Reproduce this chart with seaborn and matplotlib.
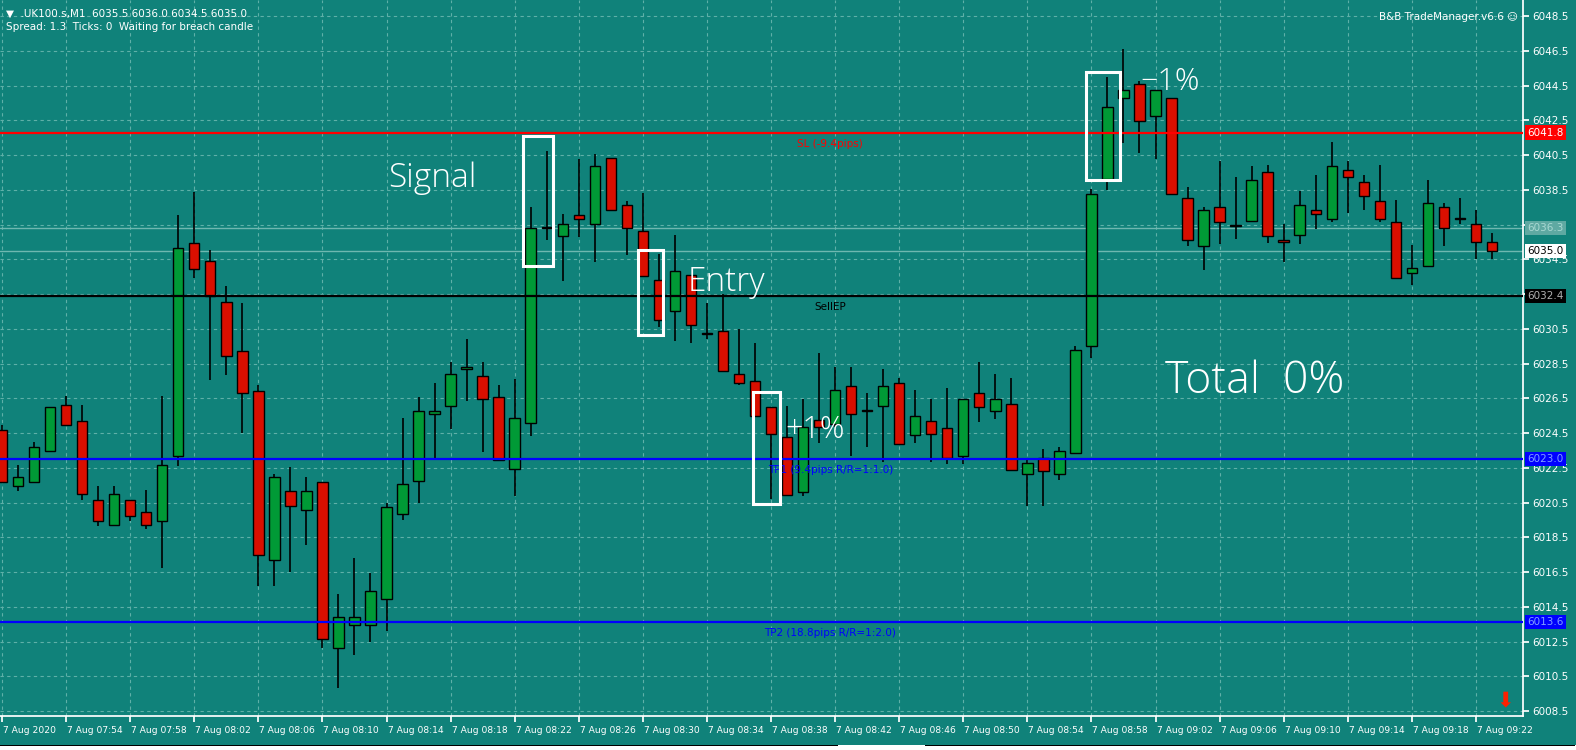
import matplotlib
matplotlib.use("Agg")
import matplotlib.pyplot as plt
from matplotlib.patches import Rectangle
import matplotlib.transforms as mtransforms
import seaborn as sns
import numpy as np
import pandas as pd

# ---- data ----
opens = [6024.66,6021.46,6021.7,6023.46,6026.14,6025.18,6020.66,6019.18,6020.66,6019.98,
         6019.46,6023.16,6035.44,6034.42,6032.02,6029.22,6026.94,6017.2,6021.18,6020.1,
         6021.7,6012.12,6013.44,6013.44,6014.92,6019.82,6021.72,6025.58,6026.04,6028.17,
         6027.77,6026.56,6022.41,6025.06,6036.29,6035.83,6037.04,6036.52,6040.32,6037.61,
         6036.11,6033.29,6031.51,6033.58,6030.19,6030.36,6027.88,6027.48,6025.98,6024.27,
         6021.13,6025.23,6025.04,6027.19,6025.77,6026.04,6027.36,6024.37,6025.18,6024.77,
         6023.2,6026.79,6025.75,6026.15,6022.12,6023.05,6022.12,6023.33,6029.49,6039.15,
         6043.77,6044.58,6042.74,6043.77,6038.01,6035.29,6037.5,6036.4,6036.69,6039.51,
         6035.6,6035.88,6037.32,6036.81,6039.63,6038.94,6037.84,6036.63,6033.7,6034.1,
         6037.5,6036.81,6036.52,6035.5]
closes = [6021.7,6021.98,6023.7,6025.98,6024.94,6021.02,6019.46,6021.02,6019.7,6019.18,
          6022.66,6035.16,6033.94,6032.4,6028.94,6026.78,6017.48,6021.98,6020.28,6021.18,
          6012.64,6013.94,6013.94,6015.42,6020.22,6021.55,6025.75,6025.75,6027.88,6028.28,
          6026.44,6022.93,6025.35,6036.29,6036.35,6036.52,6036.81,6039.86,6037.32,6036.29,
          6033.52,6030.99,6033.81,6030.7,6030.25,6028.06,6027.36,6025.46,6024.43,6020.92,
          6024.85,6024.85,6026.96,6025.58,6025.82,6027.19,6023.85,6025.46,6024.43,6023.05,
          6026.44,6025.98,6026.44,6022.39,6022.8,6022.34,6023.45,6029.26,6038.24,6043.25,
          6044.23,6042.45,6044.23,6038.24,6035.6,6037.34,6036.63,6036.45,6039.05,6035.83,
          6035.48,6037.61,6037.09,6039.86,6039.22,6038.13,6036.81,6033.41,6033.98,6037.73,
          6036.29,6036.85,6035.48,6035.0]
highs = [6024.96,6022.66,6024.0,6026.0,6026.66,6026.14,6021.48,6021.48,6020.66,6021.2,
         6026.66,6037.06,6038.4,6035.06,6032.94,6031.98,6027.26,6022.16,6022.52,6022.0,
         6021.7,6015.22,6017.32,6016.42,6020.5,6025.35,6026.58,6027.38,6028.59,6029.92,
         6028.59,6027.27,6027.61,6037.52,6040.74,6037.11,6040.28,6040.57,6040.32,6037.86,
         6038.32,6034.81,6035.9,6033.58,6031.97,6032.53,6030.47,6029.67,6025.98,6026.08,
         6026.44,6029.09,6028.3,6028.3,6026.79,6028.19,6027.65,6026.96,6026.44,6027.08,
         6026.44,6028.59,6027.92,6027.65,6023.05,6023.58,6023.68,6029.51,6038.53,6044.98,
         6046.59,6044.75,6044.23,6043.8,6038.67,6037.5,6040.16,6039.24,6039.88,6039.93,
         6036.52,6038.44,6039.36,6041.26,6040.16,6039.36,6039.93,6037.9,6035.31,6039.05,
         6037.73,6038.01,6037.32,6036.0]
lows = [6021.6,6021.16,6021.7,6023.46,6024.94,6020.66,6019.16,6019.18,6019.46,6018.98,
        6016.76,6022.62,6033.4,6027.56,6027.84,6024.48,6015.7,6015.7,6016.5,6018.08,
        6012.1,6009.82,6011.7,6012.5,6013.12,6019.5,6020.49,6023.01,6024.75,6026.37,
        6023.43,6022.93,6020.9,6024.35,6035.62,6033.27,6035.81,6034.37,6037.32,6034.75,
        6033.52,6030.59,6029.78,6029.67,6029.9,6028.06,6027.25,6025.46,6020.69,6020.9,
        6020.9,6023.91,6024.87,6023.2,6023.72,6022.85,6023.85,6023.95,6022.85,6022.74,
        6022.74,6025.16,6025.31,6022.39,6020.32,6020.32,6021.82,6023.33,6028.84,6038.49,
        6041.22,6040.64,6040.26,6038.24,6035.29,6033.91,6035.4,6035.69,6036.69,6035.46,
        6034.37,6035.4,6036.27,6036.63,6037.19,6037.32,6036.63,6033.41,6033.01,6034.1,
        6035.29,6036.52,6034.5,6034.5]
start_minute = 7 * 60 + 50
price_ticks = [6008.5 + 2 * i for i in range(21)]
levels = [6041.8, 6032.4, 6023.0, 6013.6]
level_labels = ["SL (-9.4pips)", "SellEP", "TP1 (9.4pips R/R=1:1.0)", "TP2 (18.8pips R/R=1:2.0)"]
level_colors = ["#ff0000", "#000000", "#0000ff", "#0000ff"]
bid, ask = 6035.0, 6036.3

n = len(opens)
idx = np.arange(n)
df = pd.DataFrame({"x": idx, "o": opens, "c": closes, "h": highs, "l": lows})

BG = "#10827A"
GREEN = "#009A36"
RED = "#D90F00"

sns.set_theme(style="dark")
plt.rcParams["font.family"] = ["DejaVu Sans"]

W, H = 1576, 750
fig = plt.figure(figsize=(W / 100, H / 100), dpi=100, facecolor=BG)
ax = fig.add_axes([0.0, 1 - 716 / H, 1523 / W, 716 / H])
ax.set_facecolor(BG)

ppu = 17.37
ymax = 6008.5 + 711 / ppu
ymin = 6008.5 - 5 / ppu
ax.set_ylim(ymin, ymax)
ax.set_xlim(-0.125, 1521 / 16 - 0.125)

for p in price_ticks:
    ax.axhline(p, color="#5fb0a8", lw=0.8, ls=(0, (3, 3)), zorder=0)
for k in range(0, n + 4, 4):
    ax.axvline(k, color="#5fb0a8", lw=0.8, ls=(0, (3, 3)), zorder=0)

ax.axhline(ask, color="#6fb8b0", lw=1.0, zorder=1)
ax.axhline(bid, color="#6fb8b0", lw=1.0, zorder=1)

up = df["c"] >= df["o"]
ax.vlines(df["x"], df["l"], df["h"], color="black", lw=1.2, zorder=2)
body = (df["c"] - df["o"]).abs().clip(lower=0.08)
bottom = np.minimum(df["o"], df["c"])
ax.bar(df["x"], body, bottom=bottom, width=0.65,
       color=np.where(up, GREEN, RED), edgecolor="black", lw=1.0, zorder=3)

for lv, lab, col in zip(levels, level_labels, level_colors):
    ax.axhline(lv, color=col, lw=1.6, zorder=4)
    ax.text(51.7, lv - 0.35, lab, color=col, fontsize=7.5, ha="center", va="top", zorder=5)

for s in ax.spines.values():
    s.set_visible(False)
ax.spines["right"].set_visible(True)
ax.spines["right"].set_color("white")
ax.spines["bottom"].set_visible(True)
ax.spines["bottom"].set_color("white")
ax.yaxis.tick_right()
ax.set_yticks(price_ticks)
hidden = {6036.5, 6032.5}
ax.set_yticklabels(["" if p in hidden else f"{p:.1f}" for p in price_ticks], color="white", fontsize=7.5)
ax.tick_params(axis="y", length=4, color="white", pad=3, right=True)
xt = list(range(0, n, 4))
labels = []
for k in xt:
    m = start_minute + k
    labels.append("7 Aug 2020" if k == 0 else f"7 Aug {m // 60:02d}:{m % 60:02d}")
ax.set_xticks(xt)
ax.set_xticklabels(labels, color="white", fontsize=6.6, ha="left")
ax.tick_params(axis="x", length=4, color="white", pad=3, bottom=True)
offset = mtransforms.ScaledTranslation(1 / 100, 0, fig.dpi_scale_trans)
for t in ax.get_xticklabels():
    t.set_transform(t.get_transform() + offset)

def ybox(val, fc, tc):
    ax.text(1.003, val, f"{val:.1f}", transform=ax.get_yaxis_transform(), fontsize=7.5,
            color=tc, va="center", ha="left",
            bbox=dict(boxstyle="square,pad=0.2", fc=fc, ec="none"), clip_on=False, zorder=6)

ybox(6041.8, "#ff0000", "#ffffff")
ybox(ask, "#5fa9a2", "#a8d8d2")
ybox(bid, "#ffffff", "#000000")
ybox(6032.4, "#000000", "#b0b0b0")
ybox(6023.0, "#0000ff", "#80a0ff")
ybox(6013.6, "#0000ff", "#80a0ff")

fig.text(6 / W, 1 - 14 / H, "▼  .UK100.s,M1  6035.5 6036.0 6034.5 6035.0", color="white", fontsize=7.5, va="center")
fig.text(6 / W, 1 - 27 / H, "Spread: 1.3  Ticks: 0  Waiting for breach candle", color="white", fontsize=7.5, va="center")
fig.text(1518 / W, 1 - 17 / H, "B&B TradeManager.v6.6 ☺", color="white", fontsize=7.5, va="center", ha="right")
fig.text(1505 / W, 1 - 700 / H, "⬇", color="#ff2000", fontsize=15, ha="center", va="center")

def htxt(x, y, s, fs):
    fig.text(x / W, 1 - y / H, s, color="white", fontsize=fs, va="center", ha="left",
             family=["Open Sans", "DejaVu Sans"], fontweight="light")

htxt(388, 178, "Signal", 24)
htxt(688, 282, "Entry", 24)
htxt(785, 430, "+1%", 22)
htxt(1140, 82, "−1%", 22)
htxt(1165, 382, "Total  0%", 32)

def hbox(x0, y0, x1, y1):
    fig.patches.append(Rectangle((x0 / W, 1 - y1 / H), (x1 - x0) / W, (y1 - y0) / H,
                                 transform=fig.transFigure, fill=False, ec="white", lw=2.2))

hbox(523, 136, 553, 266)
hbox(638, 250, 663, 335)
hbox(753, 392, 780, 504)
hbox(1086, 72, 1120, 180)

fig.patches.append(Rectangle((0, 0), 1, 5 / H, transform=fig.transFigure, fc="white", ec="none"))
fig.patches.append(Rectangle((0, 4 / H), 838 / W, 1.5 / H, transform=fig.transFigure, fc="black", ec="none"))
fig.patches.append(Rectangle((925 / W, 4 / H), 650 / W, 1.5 / H, transform=fig.transFigure, fc="black", ec="none"))

fig.savefig("out.png", dpi=100, facecolor=BG)
